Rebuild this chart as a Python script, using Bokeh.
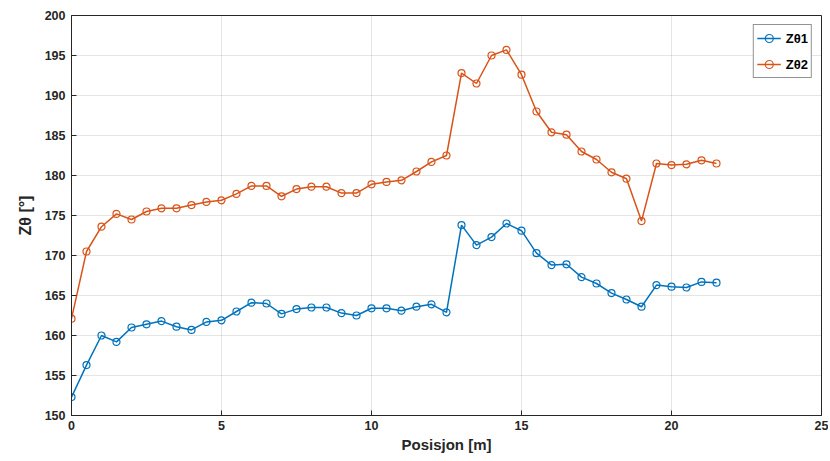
from bokeh.plotting import figure
from bokeh.models import ColumnDataSource, Legend, LegendItem, FixedTicker, Range1d
from bokeh.embed import file_html
from bokeh.resources import INLINE

position = [i * 0.5 for i in range(44)]
z01 = [152.3, 156.3, 160.0, 159.2, 161.0, 161.4, 161.8, 161.1, 160.7, 161.7,
       161.9, 163.0, 164.1, 164.0, 162.7, 163.3, 163.5, 163.5, 162.8, 162.5,
       163.4, 163.4, 163.1, 163.6, 163.9, 162.9, 173.8, 171.3, 172.3, 174.0,
       173.1, 170.3, 168.8, 168.9, 167.3, 166.5, 165.3, 164.5, 163.6, 166.3,
       166.1, 166.0, 166.7, 166.6]
z02 = [162.1, 170.5, 173.6, 175.2, 174.5, 175.5, 175.9, 175.9, 176.3, 176.7,
       176.9, 177.7, 178.7, 178.7, 177.4, 178.3, 178.6, 178.6, 177.8, 177.8,
       178.9, 179.2, 179.4, 180.5, 181.7, 182.5, 192.8, 191.5, 195.0, 195.7,
       192.6, 188.0, 185.4, 185.1, 183.0, 182.0, 180.4, 179.6, 174.3, 181.5,
       181.3, 181.4, 181.9, 181.5]
x_ticks = [0, 5, 10, 15, 20, 25]
y_ticks = [150, 155, 160, 165, 170, 175, 180, 185, 190, 195, 200]
series_labels = ["Zθ1", "Zθ2"]

FONT = "Liberation Sans"
AX = "#262626"
C1 = "#0072BD"
C2 = "#D95319"

src = ColumnDataSource(dict(x=position, z01=z01, z02=z02))

p = figure(frame_width=750, frame_height=400, output_backend="svg", toolbar_location=None,
           x_range=Range1d(0, 25), y_range=Range1d(150, 200),
           min_border_left=71, min_border_right=7, min_border_top=15, min_border_bottom=37)
p.background_fill_color = "white"
p.border_fill_color = "white"
p.outline_line_color = AX
p.outline_line_width = 1

l1 = p.line("x", "z01", source=src, line_color=C1, line_width=1.5)
c1 = p.scatter("x", "z01", source=src, marker="circle", size=7, fill_color=None,
               line_color=C1, line_width=1.2)
l2 = p.line("x", "z02", source=src, line_color=C2, line_width=1.5)
c2 = p.scatter("x", "z02", source=src, marker="circle", size=7, fill_color=None,
               line_color=C2, line_width=1.2)

for ax in (p.xaxis[0], p.yaxis[0]):
    ax.axis_line_color = AX
    ax.major_tick_line_color = AX
    ax.minor_tick_line_color = None
    ax.major_tick_in = 5
    ax.major_tick_out = 0
    ax.major_label_text_font = FONT
    ax.major_label_text_font_style = "bold"
    ax.major_label_text_font_size = "12.5px"
    ax.major_label_text_color = AX
    ax.axis_label_text_font = FONT
    ax.axis_label_text_font_style = "bold"
    ax.axis_label_text_color = AX

p.xaxis.ticker = FixedTicker(ticks=x_ticks)
p.yaxis.ticker = FixedTicker(ticks=y_ticks)
p.xaxis.major_label_standoff = 5
p.yaxis.major_label_standoff = 6
p.xaxis.axis_label = "Posisjon [m]"
p.xaxis.axis_label_text_font_size = "15px"
p.xaxis.axis_label_standoff = 3
p.yaxis.axis_label = "Zθ [°]"
p.yaxis.axis_label_text_font_size = "16px"
p.yaxis.axis_label_standoff = 8

p.xgrid.ticker = FixedTicker(ticks=x_ticks)
p.ygrid.ticker = FixedTicker(ticks=y_ticks)
for g in (p.xgrid[0], p.ygrid[0]):
    g.grid_line_color = AX
    g.grid_line_alpha = 0.12

legend = Legend(items=[LegendItem(label=series_labels[0], renderers=[l1, c1]),
                       LegendItem(label=series_labels[1], renderers=[l2, c2])],
                location="top_right")
legend.label_text_font = FONT
legend.label_text_font_style = "bold"
legend.label_text_font_size = "13px"
legend.label_text_color = "black"
legend.border_line_color = AX
legend.border_line_width = 1
legend.margin = 9
legend.padding = 3
legend.spacing = 6
legend.glyph_width = 24
legend.glyph_height = 20
legend.label_height = 20
legend.label_standoff = 5
p.add_layout(legend)

open("out.html", "w").write(file_html(p, INLINE))
